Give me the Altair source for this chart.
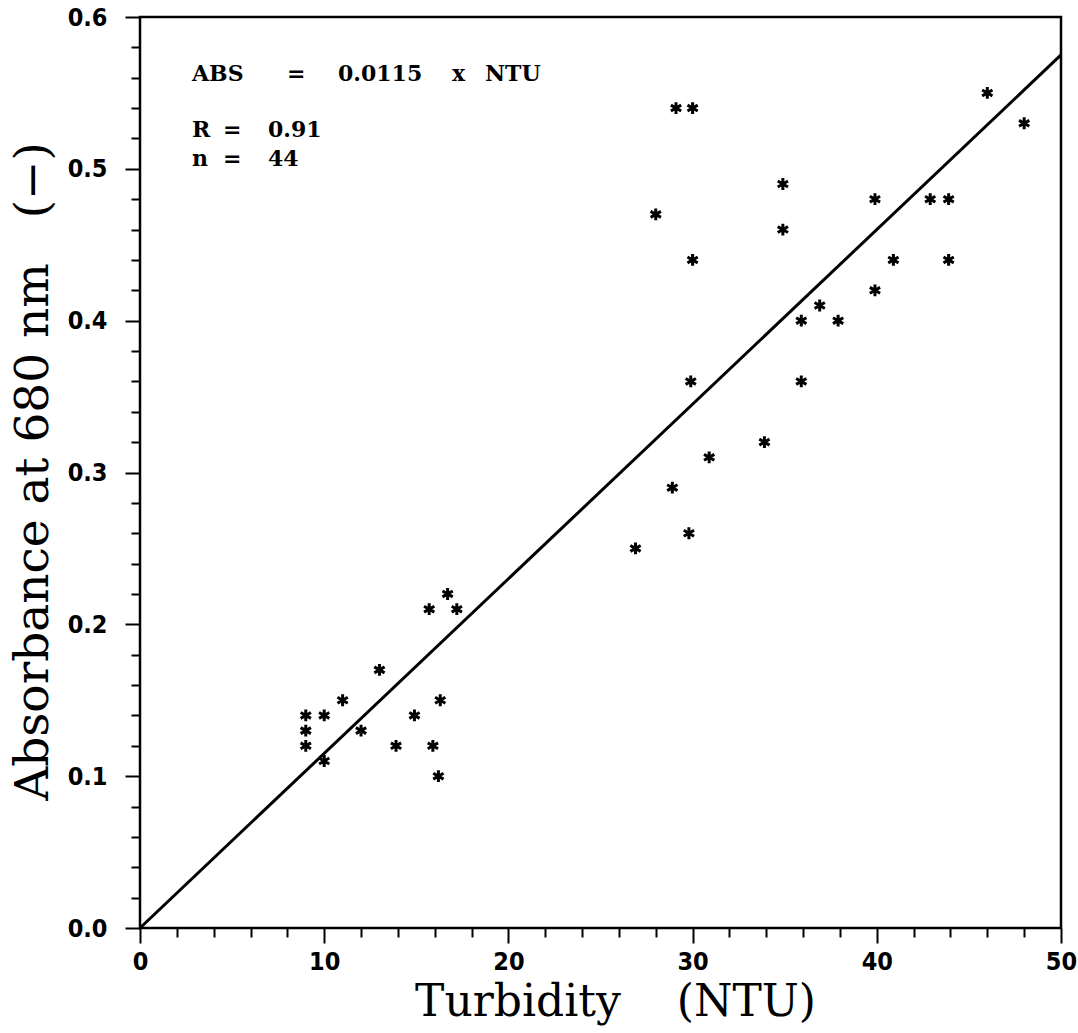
import altair as alt
import pandas as pd

# Data
ntu = [9.0, 9.0, 9.0, 10.0, 10.0, 11.0, 12.0, 13.0, 13.9, 14.9, 15.7, 15.9, 16.3, 16.2, 16.7, 17.2,
       26.9, 28.0, 28.9, 29.1, 30.0, 30.0, 29.9, 29.8, 30.9, 33.9, 34.9, 34.9, 35.9, 35.9, 36.9, 37.9,
       39.9, 39.9, 40.9, 42.9, 43.9, 43.9, 46.0, 48.0]
absorb = [0.14, 0.13, 0.12, 0.14, 0.11, 0.15, 0.13, 0.17, 0.12, 0.14, 0.21, 0.12, 0.15, 0.10, 0.22, 0.21,
          0.25, 0.47, 0.29, 0.54, 0.54, 0.44, 0.36, 0.26, 0.31, 0.32, 0.49, 0.46, 0.40, 0.36, 0.41, 0.40,
          0.48, 0.42, 0.44, 0.48, 0.48, 0.44, 0.55, 0.53]

fit_x = [0, 50]
fit_y = [0.0, 0.575]

x_ticks = list(range(0, 51, 2))
y_ticks = [round(i * 0.02, 2) for i in range(31)]

annot_text = ["ABS", "=", "0.0115", "x", "NTU", "R", "=", "0.91", "n", "=", "44"]

pts = pd.DataFrame({"ntu": ntu, "abs": absorb})
fit = pd.DataFrame({"ntu": fit_x, "abs": fit_y})

xscale = alt.Scale(domain=[0, 50], nice=False, zero=False)
yscale = alt.Scale(domain=[0, 0.6], nice=False, zero=False)

label_font = "DejaVu Sans Condensed, Liberation Sans Narrow, DejaVu Sans"
title_font = "DejaVu Serif"
NB = "\u00a0"

xaxis = alt.Axis(
    title="Turbidity" + NB * 4 + "(NTU)", values=x_ticks, tickCount=60,
    labelExpr="datum.value % 10 === 0 ? datum.label : ''",
    format="d", grid=False, domain=False,
    tickColor="black", tickWidth=2,
    tickSize={"condition": {"test": "datum.value % 10 === 0", "value": 15}, "value": 9},
    labelFont=label_font, labelFontWeight="bold", labelFontSize=25, labelColor="black",
    labelPadding=6, labelFlush=False, labelOverlap=False,
    titleFont=title_font, titleFontWeight="normal", titleFontSize=44, titleColor="black",
    titleX=475, titleY=87, titleBaseline="alphabetic", titleAlign="center", titleAnchor="middle",
)
yaxis = alt.Axis(
    title="Absorbance at 680 nm" + NB * 3 + "(\u2212)", values=y_ticks, tickCount=60,
    labelExpr="round(datum.value*100) % 10 === 0 ? format(datum.value, '.1f') : ''",
    grid=False, domain=False,
    tickColor="black", tickWidth=2,
    tickSize={"condition": {"test": "round(datum.value*100) % 10 === 0", "value": 15}, "value": 9},
    labelFont=label_font, labelFontWeight="bold", labelFontSize=25, labelColor="black",
    labelPadding=18, labelFlush=False, labelOverlap=False,
    titleFont=title_font, titleFontWeight="normal", titleFontSize=47, titleColor="black",
    titleX=-93, titleY=454, titleAngle=270, titleBaseline="alphabetic", titleAlign="center",
    titleAnchor="middle",
)

asterisk = "M0,-1L0,1M-0.87,-0.5L0.87,0.5M-0.87,0.5L0.87,-0.5"

points = alt.Chart(pts).mark_point(
    shape=asterisk, filled=False, color="black", strokeWidth=3, size=140, opacity=1
).encode(
    x=alt.X("ntu:Q", scale=xscale, axis=xaxis),
    y=alt.Y("abs:Q", scale=yscale, axis=yaxis),
)

line = alt.Chart(fit).mark_line(color="black", strokeWidth=3).encode(
    x=alt.X("ntu:Q", scale=xscale),
    y=alt.Y("abs:Q", scale=yscale),
)

# pixel placement of annotation pieces (relative to plot area)
annot_px = [(52, 64), (147, 64), (198, 64), (312, 64), (345, 64),
            (52, 120), (83, 120), (128, 120),
            (52, 149), (83, 149), (128, 149)]

texts = []
for t, (px, py) in zip(annot_text, annot_px):
    texts.append(
        alt.Chart(pd.DataFrame({"t": [t]})).mark_text(
            align="left", baseline="alphabetic", font=title_font, fontWeight="bold",
            fontSize=22, color="black"
        ).encode(text="t:N", x=alt.value(px), y=alt.value(py))
    )

chart = alt.layer(line, points, *texts).properties(
    width=921, height=911,
    padding={"left": 140, "top": 17, "right": 17, "bottom": 105},
    autosize=alt.AutoSizeParams(type="none"),
    background="white",
).configure_view(stroke="black", strokeWidth=2.5)

chart.save("out.html", embed_options={"renderer": "svg", "actions": False})
